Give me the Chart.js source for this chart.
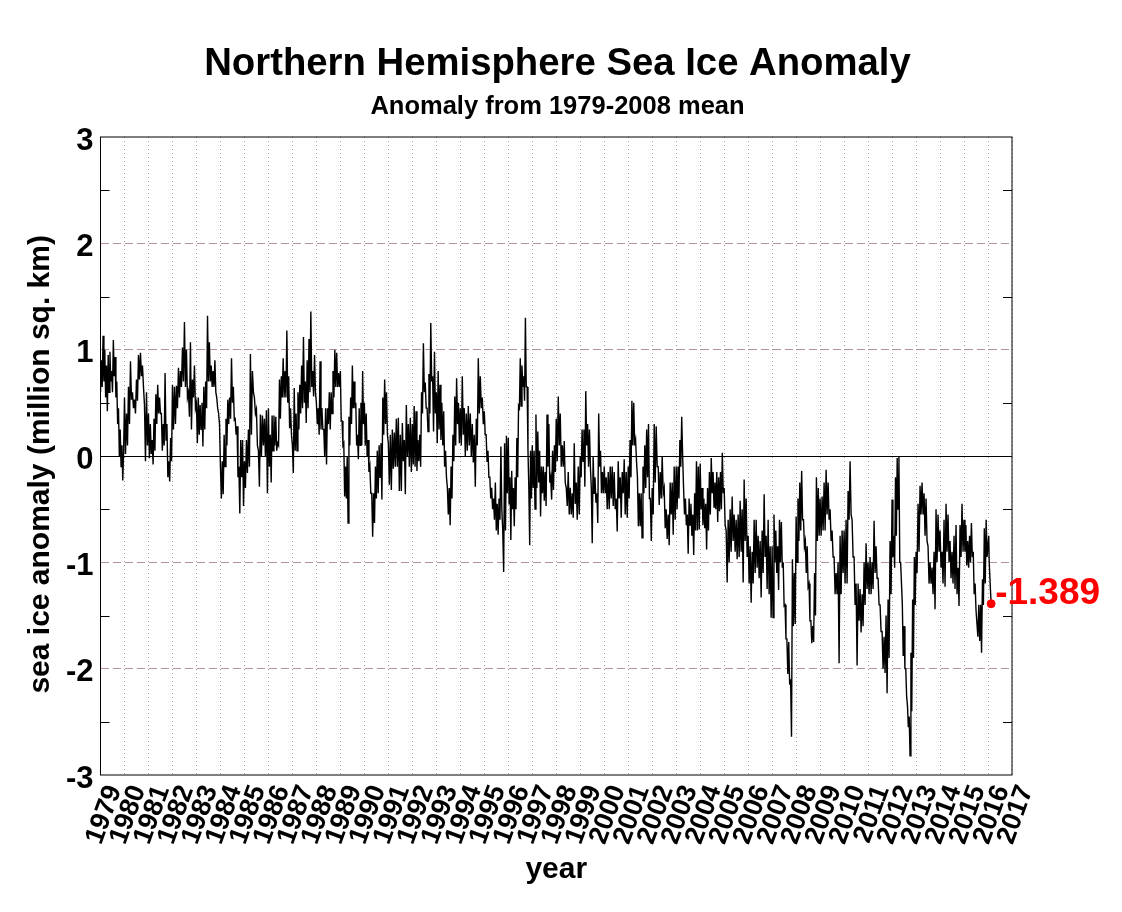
<!DOCTYPE html>
<html><head><meta charset="utf-8">
<style>html,body{margin:0;padding:0;background:#fff}canvas{display:block}</style>
<script src="https://cdn.jsdelivr.net/npm/chart.js@4"></script>
</head><body><canvas id="c" width="1122" height="912"></canvas>
<script>
const titleText = "Northern Hemisphere Sea Ice Anomaly";
const subtitleText = "Anomaly from 1979-2008 mean";
const yTitle = "sea ice anomaly (million sq. km)  ";
const xTitle = "year";
const lastLabel = "-1.389";
const y1979=[0.6,0.9,0.65,1.13,0.7,1.0,0.55,0.85,0.42,0.95,0.6,0.98,0.7,0.8,0.6,1.09,0.75,0.93,0.55,0.7,0.3,0.45,0.0,0.25,-0.1,0.1,-0.23,0.05];
const y1980=[0.55,0.02,0.4,0.1,0.65,0.3,0.89,0.53,0.6,0.45,0.53,0.4,0.72,0.52,0.95,0.72,0.97,0.75,0.85,0.65,0.48,-0.05,0.6,0.1];
const y1981=[0.4,-0.02,0.3,0.02,0.15,-0.08,0.35,0.05,0.58,0.3,0.67,0.4,0.55,0.4,0.4,0.05,0.3,0.1,0.78,0.15,0.3,-0.2,-0.05,-0.24,0.17,-0.05];
const y1982=[0.67,0.25,0.65,0.3,0.66,0.45,0.83,0.55,0.8,0.65,1.02,0.7,1.26,0.65,1.0,0.55,0.6,0.37,1.07,0.25,0.72,0.55,0.85,0.45];
const y1983=[0.5,0.12,0.55,0.2,0.48,0.25,0.5,0.09,0.65,0.25,0.7,0.45,1.32,0.7,1.07,0.7,0.85,0.65,0.8,0.65,0.9,0.6,0.55,0.45,0.4,0.3];
const y1984=[-0.1,-0.4,-0.05,-0.36,0.2,-0.1,0.35,0.1,0.53,0.3,0.55,0.35,0.92,0.5,0.65,0.34,0.35,0.2,0.28,-0.2,-0.1,-0.54,0.15,-0.2,0.15,-0.47];
const y1985=[-0.05,-0.3,0.15,-0.16,0.25,-0.1,0.96,0.2,0.8,0.6,0.55,0.4,0.44,0.1,0.05,-0.29,0.39,0.0,0.38,0.1,0.35,0.0,0.43,-0.35];
const y1986=[0.45,-0.1,0.2,-0.25,0.38,0.05,0.38,0.1,0.37,0.05,0.12,0.1,0.72,0.35,0.75,0.55,0.92,0.55,0.8,0.55,1.18,0.5,0.75,0.26,0.45,0.2];
const y1987=[0.1,-0.16,0.64,0.05,0.4,0.05,0.6,0.25,0.67,0.4,0.85,0.45,1.12,0.5,0.7,0.31,0.9,0.45,1.1,0.6,1.36,0.65,0.8,0.56,0.95,0.6];
const y1988=[0.5,0.3,0.45,0.2,0.89,0.25,0.45,0.25,0.25,0.0,0.45,-0.08,0.45,0.3,0.6,0.25,0.6,0.4,0.8,0.55,1.0,0.65,0.97,0.65,0.78,0.65];
const y1989=[0.8,0.33,0.33,0.1,0.12,-0.38,-0.1,-0.4,0.0,-0.63,0.37,0.1,0.55,0.3,0.85,0.45,0.7,0.45,0.5,0.1,0.2,-0.03,0.45,0.1,0.5,0.1,0.8,0.3];
const y1990=[0.5,0.1,0.4,0.0,0.15,-0.15,-0.1,-0.35,-0.35,-0.76,-0.35,-0.63,-0.1,-0.4,0.05,-0.35,0.1,-0.2,0.12,-0.41,0.55,0.2,0.72,0.3,0.6,0.2];
const y1991=[0.12,-0.27,0.2,-0.32,0.25,-0.12,0.22,-0.1,0.35,-0.1,0.36,-0.33,0.2,-0.33,0.31,-0.05,0.15,-0.36,0.48,0.0,0.3,-0.1,0.36,-0.15];
const y1992=[0.3,-0.08,0.47,-0.1,0.42,-0.14,0.15,-0.05,0.2,-0.1,0.6,0.4,1.06,0.6,0.69,0.45,0.45,0.23,0.77,0.4,1.25,0.7,0.75,0.23,0.98,0.4];
const y1993=[0.6,0.12,0.8,0.25,0.67,0.15,0.5,0.1,0.42,-0.1,0.05,-0.2,-0.3,-0.55,-0.3,-0.65,-0.1,-0.4,0.2,-0.05,0.56,0.1,0.73,0.3,0.5,0.12];
const y1994=[0.45,0.1,0.75,0.2,0.45,0.0,0.4,0.05,0.47,0.1,0.4,0.0,0.3,-0.06,0.2,-0.29,0.35,0.1,0.92,0.4,0.75,0.45,0.55,0.3];
const y1995=[0.42,0.2,0.2,-0.05,0.05,-0.2,-0.2,-0.4,-0.3,-0.5,-0.4,-0.6,-0.25,-0.7,-0.45,-0.74,-0.4,-0.6,0.09,-0.5,-0.7,-1.09,0.12,-0.7,0.19,-0.35];
const y1996=[0.17,-0.45,-0.2,-0.79,-0.14,-0.5,-0.3,-0.66,-0.2,-0.5,0.17,-0.2,0.47,0.45,0.92,0.47,0.85,0.65,0.75,0.52,1.3,0.65,0.65,0.05,-0.3,-0.84,0.05,-0.4];
const y1997=[0.1,-0.3,0.05,-0.5,0.39,-0.3,0.23,-0.25,0.05,-0.57,-0.1,-0.35,-0.1,-0.42,-0.15,-0.47,0.39,-0.1,0.3,-0.25,-0.2,-0.41,0.05,-0.32,0.1,-0.15];
const y1998=[0.35,-0.05,0.56,0.1,0.4,-0.1,0.1,-0.1,0.14,-0.25,-0.3,-0.47,-0.15,-0.55,-0.3,-0.55,-0.35,-0.58,0.12,-0.45,-0.25,-0.6,-0.1,-0.55];
const y1999=[0.0,-0.2,0.25,-0.05,0.25,-0.29,0.61,0.1,0.3,-0.1,0.25,-0.1,-0.3,-0.82,0.0,-0.35,-0.2,-0.44,-0.35,-0.63,0.4,-0.1,0.05,-0.35,-0.15,-0.35];
const y2000=[-0.1,-0.35,-0.2,-0.5,-0.15,-0.5,-0.1,-0.4,-0.1,-0.47,-0.15,-0.5,-0.4,-0.71,-0.05,-0.4,-0.2,-0.58,-0.15,-0.35,-0.03,-0.55,-0.15,-0.58];
const y2001=[-0.1,-0.4,0.15,-0.2,0.52,0.1,0.5,0.1,0.15,-0.05,-0.2,-0.66,-0.35,-0.66,-0.35,-0.77,-0.1,-0.35,0.1,-0.3,0.25,-0.2,0.3,-0.4,-0.4,-0.8];
const y2002=[-0.3,-0.55,0.3,-0.25,0.28,-0.1,-0.1,-0.46,-0.15,-0.4,0.0,-0.35,-0.3,-0.68,-0.5,-0.78,-0.55,-0.84,-0.25,-0.55,-0.25,-0.74,-0.1,-0.6];
const y2003=[-0.1,-0.5,-0.1,-0.4,0.15,-0.1,0.37,0.0,-0.3,-0.55,-0.4,-0.65,-0.55,-0.92,-0.4,-0.65,-0.45,-0.75,-0.55,-0.93,-0.35,-0.7,-0.05,-0.7,-0.1,-0.69];
const y2004=[-0.07,-0.5,-0.3,-0.65,-0.4,-0.68,-0.45,-0.88,-0.3,-0.7,-0.15,-0.55,-0.02,-0.35,-0.15,-0.48,-0.25,-0.5,-0.15,-0.62,-0.2,-0.52,-0.15,-0.5,0.03,-0.35];
const y2005=[-0.3,-0.65,-0.7,-1.19,-0.6,-1.0,-0.5,-0.9,-0.38,-0.8,-0.55,-0.9,-0.6,-0.97,-0.55,-0.95,-0.42,-0.9,-0.5,-1.19,-0.22,-0.8,-0.4,-0.95];
const y2006=[-0.75,-1.2,-0.85,-1.38,-0.9,-1.2,-0.6,-1.1,-0.6,-1.05,-0.75,-1.15,-0.8,-1.33,-0.7,-1.1,-0.36,-0.95,-0.75,-1.25,-0.6,-1.3,-0.85,-1.52];
const y2007=[-0.85,-1.52,-0.55,-1.0,-0.7,-1.1,-0.85,-1.26,-0.6,-1.0,-0.62,-1.05,-1.0,-1.41,-1.4,-1.72,-1.72,-2.05,-1.75,-2.15,-2.1,-2.64,-0.97,-1.6,-1.1,-1.58];
const y2008=[-0.57,-1.0,-0.4,-0.8,-0.25,-0.7,-0.14,-0.6,-0.6,-0.85,-0.8,-1.1,-0.85,-1.23,-1.2,-1.55,-1.55,-1.76,-1.6,-1.75,-1.1,-1.5,-0.2,-0.8,-0.3,-0.75];
const y2009=[-0.4,-0.75,-0.38,-0.7,-0.25,-0.7,-0.13,-0.55,-0.25,-0.6,-0.5,-0.8,-0.7,-0.95,-0.95,-1.3,-1.1,-1.3,-1.0,-1.95,-0.75,-1.3,-0.7,-1.1];
const y2010=[-0.7,-1.2,-0.6,-1.2,-0.33,-0.6,-0.05,-0.55,-0.6,-0.95,-0.95,-1.4,-1.2,-1.97,-1.2,-1.55,-1.25,-1.66,-1.3,-1.6,-1.0,-1.4,-0.82,-1.25];
const y2011=[-1.0,-1.3,-0.95,-1.3,-1.0,-1.25,-0.61,-1.1,-0.85,-1.15,-1.15,-1.4,-1.4,-1.65,-1.65,-2.0,-1.7,-2.04,-1.5,-2.23,-1.35,-1.9,-0.8,-1.3];
const y2012=[-0.41,-0.95,-0.75,-1.05,-0.2,-0.75,-0.02,-0.5,0.0,-1.0,-1.0,-1.2,-1.4,-1.88,-1.6,-2.0,-2.0,-2.26,-2.35,-2.55,-2.45,-2.82,-1.85,-2.4,-1.35,-1.9,-0.95,-1.4];
const y2013=[-0.9,-1.1,-0.45,-0.9,-0.28,-0.55,-0.25,-0.55,-0.35,-0.75,-0.4,-0.8,-0.85,-1.2,-1.0,-1.2,-1.05,-1.3,-0.9,-1.44,-0.5,-1.0,-0.55,-0.9];
const y2014=[-0.7,-1.05,-0.9,-1.2,-0.6,-1.23,-0.45,-0.9,-0.55,-1.0,-0.8,-1.15,-0.9,-1.2,-0.75,-1.25,-0.65,-1.3,-1.05,-1.41,-0.65,-0.95,-0.45,-0.9];
const y2015=[-0.6,-0.9,-0.65,-1.03,-0.8,-1.05,-0.75,-1.0,-0.63,-0.95,-0.9,-1.3,-1.2,-1.45,-1.45,-1.7,-1.4,-1.74,-1.4,-1.85,-1.16,-1.4,-0.68,-1.2,-0.6,-0.95];
const y2016=[-0.75,-1.0,-1.0,-1.25,-1.389];
const y2016Years=[2016.03,2016.05,2016.08,2016.10,2016.13];
const yearGroups=[[1979,y1979],[1980,y1980],[1981,y1981],[1982,y1982],[1983,y1983],[1984,y1984],[1985,y1985],[1986,y1986],[1987,y1987],[1988,y1988],[1989,y1989],[1990,y1990],[1991,y1991],[1992,y1992],[1993,y1993],[1994,y1994],[1995,y1995],[1996,y1996],[1997,y1997],[1998,y1998],[1999,y1999],[2000,y2000],[2001,y2001],[2002,y2002],[2003,y2003],[2004,y2004],[2005,y2005],[2006,y2006],[2007,y2007],[2008,y2008],[2009,y2009],[2010,y2010],[2011,y2011],[2012,y2012],[2013,y2013],[2014,y2014],[2015,y2015]];

const series=[];
for(const [yr,vals] of yearGroups){vals.forEach((v,i)=>series.push({x:yr+i/vals.length,y:v}));}
y2016.forEach((v,i)=>series.push({x:y2016Years[i],y:v}));
const lastPoint=series[series.length-1];

const FONT="'Liberation Sans', Arial, sans-serif";
const GRID="#b59595";

const furniture={id:'furniture',
  beforeDatasetsDraw(ch){
    const {ctx,chartArea:a,scales:{x,y}}=ch;
    ctx.save();
    ctx.strokeStyle='#000';ctx.lineWidth=1;
    const zero=Math.round(y.getPixelForValue(0))+0.5;
    ctx.beginPath();ctx.moveTo(a.left,zero);ctx.lineTo(a.right,zero);ctx.stroke();
    for(const v of [2.5,1.5,0.5,-0.5,-1.5,-2.5]){
      const p=Math.round(y.getPixelForValue(v))+0.5;
      ctx.beginPath();ctx.moveTo(a.left,p);ctx.lineTo(a.left+9,p);ctx.moveTo(a.right-9,p);ctx.lineTo(a.right,p);ctx.stroke();
    }
    ctx.restore();
  },
  afterDraw(ch){
    const {ctx,chartArea:a,scales:{x,y}}=ch;
    ctx.save();
    ctx.strokeStyle='#000';ctx.lineWidth=1;
    ctx.strokeRect(a.left,a.top,a.right-a.left,a.bottom-a.top);
    ctx.fillStyle='#ff0000';ctx.font="bold 37px "+FONT;ctx.textAlign='left';ctx.textBaseline='middle';
    ctx.fillText(lastLabel,x.getPixelForValue(lastPoint.x)+4,y.getPixelForValue(lastPoint.y)-10);
    ctx.restore();
  }
};

new Chart(document.getElementById('c'),{
  type:'line',
  data:{datasets:[
    {data:series,borderColor:'#000',borderWidth:1.4,pointRadius:0,tension:0,fill:false,order:2,yAxisID:'y'},
    {data:[lastPoint],borderColor:'#ff0000',backgroundColor:'#ff0000',pointRadius:4,showLine:false,order:1,yAxisID:'y'}
  ]},
  plugins:[furniture],
  options:{
    responsive:false,animation:false,devicePixelRatio:1,
    layout:{padding:{left:23,right:30,top:0,bottom:24}},
    plugins:{
      legend:{display:false},tooltip:{enabled:false},
      title:{display:true,text:titleText,color:'#000',font:{family:FONT,size:38.3,weight:'bold',lineHeight:1},padding:{top:45,bottom:1}},
      subtitle:{display:true,text:subtitleText,color:'#000',font:{family:FONT,size:25.5,weight:'bold',lineHeight:1},padding:{top:10,bottom:17.2}}
    },
    scales:{
      x:{type:'linear',min:1979,max:2017,
        afterFit(s){s.height=113;},
        grid:{display:true,color:GRID,lineWidth:1,drawTicks:false},
        border:{display:false,dash:[1,3]},
        ticks:{stepSize:1,autoSkip:false,minRotation:70,maxRotation:70,color:'#000',padding:6,labelOffset:14,
          font:{family:FONT,size:27,weight:'bold'},callback:v=>String(v)},
        title:{display:true,text:xTitle,color:'#000',font:{family:FONT,size:30,weight:'bold'},padding:{top:0,bottom:0}}
      },
      y:{type:'linear',min:-3,max:3,
        afterFit(s){s.width=77.5;},
        grid:{display:true,lineWidth:1,drawTicks:false,color:c=>(c.tick.value===0||Math.abs(c.tick.value)===3)?'rgba(0,0,0,0)':GRID},
        border:{display:false,dash:[8,4]},
        ticks:{stepSize:1,color:'#000',padding:7,labelOffset:4,font:{family:FONT,size:31,weight:'bold'},callback:v=>String(v)},
        title:{display:true,text:yTitle,color:'#000',font:{family:FONT,size:30,weight:'bold'},padding:{top:0,bottom:0}}
      },
      r:{type:'linear',position:'right',display:true,min:-3,max:3,
        afterFit(s){s.width=80;},
        grid:{display:false},border:{display:false},ticks:{display:false}
      }
    }
  }
});
</script></body></html>
